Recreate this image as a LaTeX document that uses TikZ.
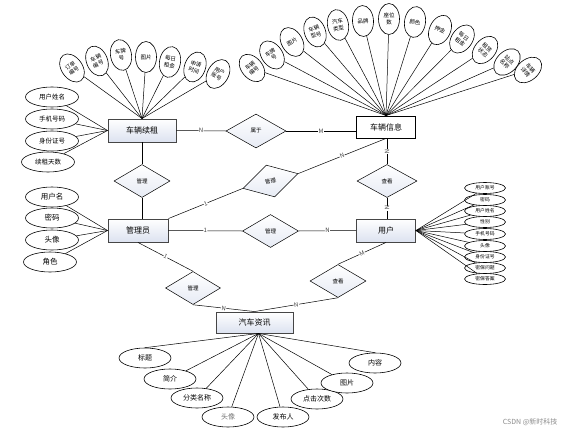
\documentclass[tikz,border=0pt]{standalone}
\usepackage{fontspec}
\newfontfamily\cjk{Noto Sans CJK SC}
\usetikzlibrary{shapes.geometric}
\definecolor{shadeb}{RGB}{220,226,240}
\definecolor{edgeg}{RGB}{70,70,70}
\begin{document}
\begin{tikzpicture}[x=1pt,y=-1pt,
  entbase/.style={rectangle, inner sep=0pt, minimum height=23pt, font=\cjk\fontsize{8}{9}\selectfont},
  ent/.style={entbase, draw=edgeg, line width=0.9pt, top color=white, bottom color=shadeb, minimum width=#1},
  entw/.style={entbase, draw=black, line width=0.9pt, fill=white, minimum width=#1},
  rel/.style={diamond, draw, line width=0.5pt, top color=white, bottom color=shadeb!70, minimum width=56pt, minimum height=33pt, inner sep=0pt, font=\cjk\fontsize{5.5}{6}\selectfont},
  tatt/.style={ellipse, draw, line width=0.6pt, fill=white, minimum width=21pt, minimum height=31pt, inner sep=0pt, align=center, font=\cjk\fontsize{5.5}{6.5}\selectfont},
  latt/.style={ellipse, draw, line width=0.6pt, fill=white, minimum width=53pt, minimum height=20pt, inner sep=0pt, font=\cjk\fontsize{6.5}{7}\selectfont},
  batt/.style={ellipse, draw, line width=0.6pt, fill=white, minimum width=52pt, minimum height=20pt, inner sep=0pt, font=\cjk\fontsize{7}{8}\selectfont},
  ratt/.style={ellipse, draw, line width=0.6pt, fill=white, minimum width=41pt, minimum height=11pt, inner sep=0pt, font=\cjk\fontsize{4.8}{5}\selectfont},
  lbl/.style={font=\cjk\fontsize{6}{6}\selectfont, fill=white, inner sep=0.4pt, sloped, text=black!75},
  ln/.style={line width=0.5pt}]
\useasboundingbox[fill=white] (0,0) rectangle (565,434);

% entities
\node[ent=68] (zx) at (142,130.5) {车辆续租};
\node[entw=59, minimum height=22pt] (xx) at (386,127) {车辆信息};
\node[ent=60] (gly) at (138,230.5) {管理员};
\node[ent=59] (yh) at (386,230.5) {用户};
\node[ent=77, minimum height=21pt] (zi) at (254.5,322.5) {汽车资讯};

% relations
\node[rel, minimum width=60pt, minimum height=34pt] (sy) at (256,131) {属于};
\node[rel] (g1) at (142,181) {管理};
\node[rel, rotate=15, minimum width=57pt] (g2) at (270.5,181) {管理};
\node[rel] (g3) at (270.5,231) {管理};
\node[rel, minimum width=60pt] (ck1) at (387,181) {查看};
\node[rel, minimum width=55pt] (g4) at (193,288) {管理};
\node[rel] (ck2) at (338,281) {查看};

% relation connectors
\draw[ln] (zx.east) -- node[lbl]{N} (sy.west);
\draw[ln] (sy.east) -- node[lbl]{M} (sy.east -| xx.west);
\draw[ln] (zx.south -| g1.north) -- (g1.north);
\draw[ln] (g1.south) -- (g1.south |- gly.north);
\draw[ln] (gly.north east) -- node[lbl]{1} (g2.west);
\draw[ln] (g2.east) -- node[lbl]{N} (xx.south);
\draw[ln] (gly.east) -- node[lbl]{1} (g3.west);
\draw[ln] (g3.east) -- node[lbl]{N} (yh.west);
\draw[ln] (ck1.north |- xx.south) -- node[lbl]{N} (ck1.north);
\draw[ln] (ck1.south) -- node[lbl]{N} (ck1.south |- yh.north);
\draw[ln] (gly.south) -- node[lbl]{1} (g4.north);
\draw[ln] (g4.south) -- node[lbl]{N} (zi.north);
\draw[ln] (ck2.south) -- node[lbl]{N} (zi.north);
\draw[ln] (yh.south) -- node[lbl]{M} (ck2.north);

% top-left attributes of 车辆续租
\node[tatt, rotate=35] (tl1) at (72,68) {订单\\编号};
\node[tatt, rotate=22] (tl2) at (97,61) {车辆\\编号};
\node[tatt, rotate=10] (tl3) at (121,55) {车牌\\号};
\node[tatt] (tl4) at (146,57) {图片};
\node[tatt, rotate=-10] (tl5) at (170,62) {每日\\租金};
\node[tatt, rotate=-20] (tl6) at (195,67) {申请\\时间};
\node[tatt, rotate=-30] (tl7) at (218,74) {用户\\账号};
\foreach \i in {1,...,7} \draw[ln] (tl\i) -- (zx.north);

\node[latt] (la1) at (52,97) {用户姓名};
\node[latt] (la2) at (52,119) {手机号码};
\node[latt] (la3) at (52,141) {身份证号};
\node[latt] (la4) at (48,162) {续租天数};
\foreach \i in {1,...,4} \draw[ln] (la\i) -- (zx.west);

% top-right attributes of 车辆信息
\node[tatt, rotate=40] (tr1) at (252,68) {车辆\\编号};
\node[tatt, rotate=35] (tr2) at (272,55) {车牌\\号};
\node[tatt, rotate=30] (tr3) at (292,42) {图片};
\node[tatt, rotate=20] (tr4) at (315,32) {车辆\\型号};
\node[tatt, rotate=10] (tr5) at (338,25) {汽车\\类型};
\node[tatt, rotate=3] (tr6) at (363,21) {品牌};
\node[tatt] (tr7) at (389,19) {座位\\数};
\node[tatt, rotate=-8] (tr8) at (415,22) {颜色};
\node[tatt, rotate=-25] (tr9) at (440,30) {押金};
\node[tatt, rotate=-35] (tr10) at (462,39) {每日\\租金};
\node[tatt, rotate=-40] (tr11) at (485,50) {租赁\\状态};
\node[tatt, rotate=-45] (tr12) at (507,62) {站点\\名称};
\node[tatt, rotate=-50] (tr13) at (528,70) {车辆\\详情};
\foreach \i in {1,...,13} \draw[ln] (tr\i) -- (xx.north);

% attributes of 用户
\node[ratt] (ra1) at (485,188) {用户账号};
\node[ratt] (ra2) at (485,200) {密码};
\node[ratt] (ra3) at (485,211) {用户姓名};
\node[ratt] (ra4) at (485,222) {性别};
\node[ratt] (ra5) at (485,234) {手机号码};
\node[ratt] (ra6) at (485,246) {头像};
\node[ratt] (ra7) at (485,257) {身份证号};
\node[ratt] (ra8) at (485,268) {密保问题};
\node[ratt] (ra9) at (485,279) {密保答案};
\foreach \i in {1,...,9} \draw[ln] (ra\i) -- (yh.east);

% attributes of 管理员
\node[latt, font=\cjk\fontsize{7.5}{8}\selectfont] (ga1) at (52,197) {用户名};
\node[latt, font=\cjk\fontsize{7.5}{8}\selectfont] (ga2) at (52,218) {密码};
\node[latt, font=\cjk\fontsize{7.5}{8}\selectfont] (ga3) at (52,240) {头像};
\node[latt, font=\cjk\fontsize{7.5}{8}\selectfont] (ga4) at (50,262) {角色};
\foreach \i in {1,...,4} \draw[ln] (ga\i) -- (gly.west);

% attributes of 汽车资讯
\coordinate (zb) at ([xshift=4pt]zi.south);
\node[batt] (ba1) at (145,358) {标题};
\node[batt] (ba2) at (170,379) {简介};
\node[batt] (ba3) at (197,398) {分类名称};
\node[batt, text=black!55] (ba4) at (228,417) {头像};
\node[batt] (ba5) at (283,417) {发布人};
\node[batt] (ba6) at (317,399) {点击次数};
\node[batt] (ba7) at (347,383) {图片};
\node[batt] (ba8) at (375,363) {内容};
\draw[ln] (ba1.north) -- (zb);
\draw[ln] (ba8.north) -- (zb);
\foreach \i in {2,...,7} \draw[ln] (ba\i) -- (zb);

\node[font=\cjk\fontsize{7}{8}\selectfont, text=black!45, anchor=east] (wm) at (561,422) {CSDN @新时科技};
\end{tikzpicture}
\end{document}
